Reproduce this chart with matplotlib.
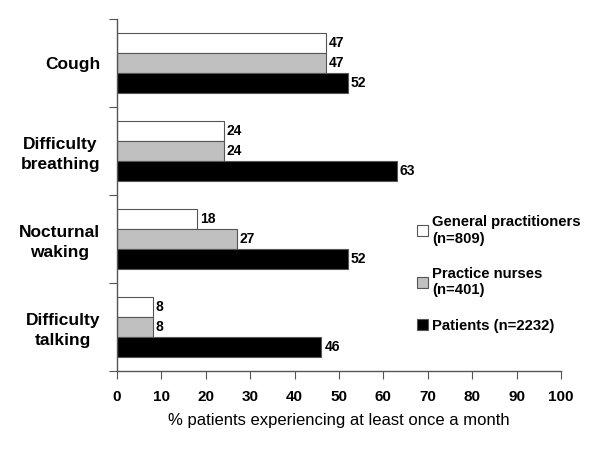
import matplotlib
matplotlib.use("Agg")
import matplotlib.pyplot as plt
import numpy as np
from matplotlib.patches import Patch

plt.rcParams['font.family'] = ['Liberation Sans', 'DejaVu Sans']

categories = ["Cough", "Difficulty\nbreathing", "Nocturnal\nwaking", "Difficulty\ntalking"]
series_names = ["General practitioners\n(n=809)", "Practice nurses\n(n=401)", "Patients (n=2232)"]
gp = [47, 24, 18, 8]
pn = [47, 24, 27, 8]
patients = [52, 63, 52, 46]
colors = ["white", "#c0c0c0", "black"]

fig = plt.figure(figsize=(6, 4.5), dpi=100)
ax = fig.add_axes([0.195, 0.1756, 0.74, 0.7824])

y = np.arange(len(categories))
h = 0.227
data = [gp, pn, patients]
for i, (vals, c) in enumerate(zip(data, colors)):
    pos = y + (i - 1) * h
    ax.barh(pos, vals, height=h, color=c, edgecolor="#555555", linewidth=0.8)
    for p, v in zip(pos, vals):
        ax.text(v + 0.7, p, str(v), va="center", ha="left", fontsize=10, fontweight="bold")

ax.set_xlim(0, 100)
ax.set_ylim(3.5, -0.5)
ax.set_xticks(np.arange(0, 101, 10))
ax.set_xticklabels([str(v) for v in range(0, 101, 10)], fontsize=11, fontweight="bold")
ax.set_yticks(np.arange(-0.5, 3.6, 1))
ax.set_yticklabels([])
ax.set_yticks(y, minor=True)
ax.set_yticklabels(categories, minor=True, fontsize=12.5, fontweight="bold",
                   multialignment="center", linespacing=1.35)
ax.tick_params(axis="y", which="minor", length=0, pad=12)
ax.tick_params(axis="y", which="major", direction="out", length=6, color="#555555")
ax.tick_params(axis="x", direction="out", length=6, color="#555555", pad=8)
for s in ["top", "right"]:
    ax.spines[s].set_visible(False)
for s in ["left", "bottom"]:
    ax.spines[s].set_color("#555555")
    ax.spines[s].set_linewidth(1.0)

ax.set_xlabel("% patients experiencing at least once a month", fontsize=12, labelpad=6)

handles = [Patch(facecolor=c, edgecolor="#555555", linewidth=0.8) for c in colors]
fig.legend(handles, series_names, loc="upper left", bbox_to_anchor=(0.672, 0.551),
           frameon=False, handlelength=0.75, handleheight=0.75, handletextpad=0.3,
           labelspacing=1.45, prop={"weight": "bold", "size": 10.7})

fig.savefig("out.png", dpi=100)
